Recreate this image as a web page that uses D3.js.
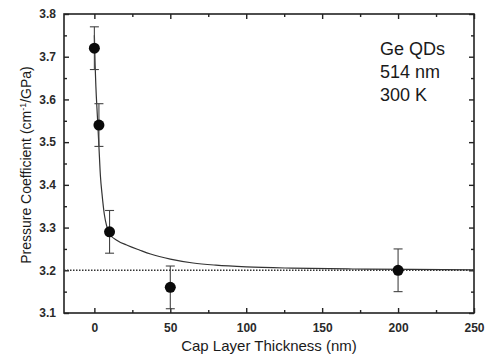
<!DOCTYPE html>
<html>
<head>
<meta charset="utf-8">
<script src="https://cdn.jsdelivr.net/npm/d3@7/dist/d3.min.js"></script>
<style>
  html, body { margin: 0; padding: 0; background: #fff; }
  svg { display: block; font-family: Arial, "Liberation Sans", Helvetica, sans-serif; }
</style>
</head>
<body>
<svg id="chart" width="487" height="357"></svg>
<script>
// Measured samples: cap layer thickness (nm), pressure coefficient, uncertainty
const thickness = [0, 3, 10, 50, 200];
const coefficient = [3.72, 3.54, 3.29, 3.16, 3.20];
const errorBar = [0.05, 0.05, 0.05, 0.05, 0.05];

// Fitted decay curve, sampled along thickness
const fitX = [0, 0.5, 1, 2, 3, 4, 5, 6.6, 8, 10, 15, 22, 30, 37, 50, 65, 80, 100, 130, 170, 210, 250];
const fitY = [3.75, 3.68, 3.63, 3.56, 3.49, 3.42, 3.38, 3.33, 3.305, 3.285, 3.27, 3.258, 3.247, 3.238, 3.226, 3.217, 3.212, 3.208, 3.205, 3.203, 3.202, 3.201];

// Bulk reference level
const bulkLevel = 3.20;

// Axis ticks
const xTicks = [0, 50, 100, 150, 200, 250];
const xMinor = [25, 75, 125, 175, 225];
const yTicks = [3.1, 3.2, 3.3, 3.4, 3.5, 3.6, 3.7, 3.8];
const yMinor = [3.15, 3.25, 3.35, 3.45, 3.55, 3.65, 3.75];

const annotation = ["Ge QDs", "514 nm", "300 K"];

const svg = d3.select("#chart");
const m = { left: 64, top: 14, right: 474, bottom: 313 };

const x = d3.scaleLinear().domain([-20, 250]).range([m.left, m.right]);
const y = d3.scaleLinear().domain([3.1, 3.8]).range([m.bottom, m.top]);

const ink = "#222";
const major = 5, minor = 3;

// Frame
svg.append("rect")
  .attr("x", m.left).attr("y", m.top)
  .attr("width", m.right - m.left).attr("height", m.bottom - m.top)
  .attr("fill", "none").attr("stroke", ink).attr("stroke-width", 1.6);

// Bottom axis (labels + inward ticks)
svg.append("g").attr("transform", `translate(0,${m.bottom})`)
  .call(d3.axisBottom(x).tickValues(xTicks).tickSizeInner(-major).tickSizeOuter(0).tickPadding(10).tickFormat(d3.format("d")));
svg.append("g").attr("transform", `translate(0,${m.bottom})`)
  .call(d3.axisBottom(x).tickValues(xMinor).tickSizeInner(-minor).tickSizeOuter(0).tickFormat(""));

// Top axis (ticks only)
svg.append("g").attr("transform", `translate(0,${m.top})`)
  .call(d3.axisTop(x).tickValues(xTicks).tickSizeInner(-major).tickSizeOuter(0).tickFormat(""));
svg.append("g").attr("transform", `translate(0,${m.top})`)
  .call(d3.axisTop(x).tickValues(xMinor).tickSizeInner(-minor).tickSizeOuter(0).tickFormat(""));

// Left axis
svg.append("g").attr("transform", `translate(${m.left},0)`)
  .call(d3.axisLeft(y).tickValues(yTicks).tickSizeInner(-major).tickSizeOuter(0).tickPadding(8).tickFormat(d3.format(".1f")));
svg.append("g").attr("transform", `translate(${m.left},0)`)
  .call(d3.axisLeft(y).tickValues(yMinor).tickSizeInner(-minor).tickSizeOuter(0).tickFormat(""));

// Right axis (ticks only)
svg.append("g").attr("transform", `translate(${m.right},0)`)
  .call(d3.axisRight(y).tickValues(yTicks).tickSizeInner(-major).tickSizeOuter(0).tickFormat(""));
svg.append("g").attr("transform", `translate(${m.right},0)`)
  .call(d3.axisRight(y).tickValues(yMinor).tickSizeInner(-minor).tickSizeOuter(0).tickFormat(""));

svg.selectAll(".domain").remove();
svg.selectAll(".tick line").attr("stroke", ink).attr("stroke-width", 1.4);
svg.selectAll(".tick text")
  .attr("fill", "#2a2a2a").attr("font-size", 12).attr("font-weight", "bold")
  .attr("font-family", "Arial, 'Liberation Sans', sans-serif");

// Bulk reference dotted line
svg.append("line")
  .attr("x1", x(-20)).attr("x2", x(250))
  .attr("y1", y(bulkLevel)).attr("y2", y(bulkLevel))
  .attr("stroke", "#333").attr("stroke-width", 1.5).attr("stroke-dasharray", "1.5,1.5");

// Fitted curve
const fit = fitX.map((v, i) => [v, fitY[i]]);
svg.append("path")
  .datum(fit)
  .attr("fill", "none").attr("stroke", "#333").attr("stroke-width", 1.2)
  .attr("d", d3.line().x(d => x(d[0])).y(d => y(d[1])).curve(d3.curveMonotoneX));

// Error bars
const pts = thickness.map((t, i) => ({ t, v: coefficient[i], e: errorBar[i] }));
const eb = svg.append("g").attr("stroke", "#444").attr("stroke-width", 1.1);
pts.forEach(p => {
  eb.append("line").attr("x1", x(p.t)).attr("x2", x(p.t)).attr("y1", y(p.v - p.e)).attr("y2", y(p.v + p.e));
  [p.v - p.e, p.v + p.e].forEach(v => {
    eb.append("line").attr("x1", x(p.t) - 4.5).attr("x2", x(p.t) + 4.5).attr("y1", y(v)).attr("y2", y(v));
  });
});

// Data markers
svg.append("g").selectAll("circle").data(pts).join("circle")
  .attr("cx", d => x(d.t)).attr("cy", d => y(d.v)).attr("r", 5.5).attr("fill", "#0a0a0a");

// Annotation
svg.append("g").selectAll("text").data(annotation).join("text")
  .attr("x", 380).attr("y", (d, i) => 55 + i * 23)
  .attr("font-size", 18).attr("fill", "#1a1a1a").text(d => d);

// Axis titles
svg.append("text")
  .attr("x", (m.left + m.right) / 2).attr("y", 351)
  .attr("text-anchor", "middle").attr("font-size", 15).attr("fill", "#1a1a1a")
  .text("Cap Layer Thickness (nm)");

const yt = svg.append("text")
  .attr("transform", `translate(31,165) rotate(-90)`)
  .attr("text-anchor", "middle").attr("font-size", 14).attr("fill", "#1a1a1a");
yt.append("tspan").text("Pressure Coefficient (cm");
yt.append("tspan").attr("font-size", 9).attr("dy", -5).text("-1");
yt.append("tspan").attr("dy", 5).text("/GPa)");
</script>
</body>
</html>
